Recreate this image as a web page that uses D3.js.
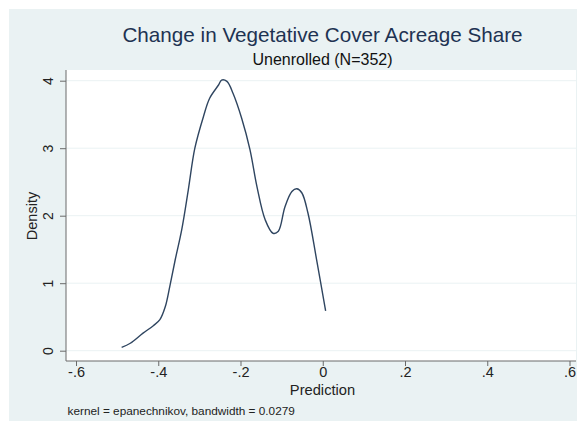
<!DOCTYPE html>
<html>
<head>
<meta charset="utf-8">
<script src="https://cdn.jsdelivr.net/npm/d3@7"></script>
<style>
  html, body { margin: 0; padding: 0; background: #ffffff; }
  svg { display: block; font-family: "Liberation Sans", Arial, sans-serif; }
</style>
</head>
<body>
<svg id="chart" width="579" height="423"></svg>
<script>
// Kernel density estimate of predicted change (unenrolled group)
const predX = [-0.489, -0.468, -0.437, -0.412, -0.396, -0.383, -0.372, -0.359, -0.343, -0.327,
               -0.311, -0.290, -0.275, -0.253, -0.246, -0.233, -0.218, -0.197, -0.177, -0.160,
               -0.140, -0.121, -0.108, -0.092, -0.075, -0.063, -0.051, -0.036, -0.015, 0.007];
const densityY = [0.05, 0.11, 0.26, 0.37, 0.46, 0.65, 0.95, 1.34, 1.79, 2.38,
                  3.00, 3.47, 3.74, 3.94, 4.01, 3.99, 3.81, 3.44, 2.98, 2.43,
                  1.94, 1.74, 1.77, 2.13, 2.36, 2.40, 2.34, 2.04, 1.35, 0.59];
const xTicks = [-0.6, -0.4, -0.2, 0, 0.2, 0.4, 0.6];
const xTickLabels = ["-.6", "-.4", "-.2", "0", ".2", ".4", ".6"];
const yTicks = [0, 1, 2, 3, 4];

const titleText = "Change in Vegetative Cover Acreage Share";
const subtitleText = "Unenrolled (N=352)";
const xLabel = "Prediction";
const yLabel = "Density";
const noteText = "kernel = epanechnikov, bandwidth = 0.0279";

const svg = d3.select("#chart");

// outer graph region
svg.append("rect").attr("x", 9).attr("y", 9).attr("width", 568).attr("height", 412)
  .attr("fill", "#eaf2f3");

const plot = { left: 66, right: 576, top: 70, bottom: 361 };
svg.append("rect").attr("x", plot.left).attr("y", plot.top)
  .attr("width", plot.right - plot.left).attr("height", plot.bottom - plot.top)
  .attr("fill", "#ffffff");

const x = d3.scaleLinear().domain([-0.6, 0.6]).range([76, 569.5]);
const y = d3.scaleLinear().domain([0, 4]).range([350.7, 80.7]);

// gridlines
svg.append("g").selectAll("line").data(yTicks).join("line")
  .attr("x1", plot.left).attr("x2", plot.right)
  .attr("y1", d => y(d)).attr("y2", d => y(d))
  .attr("stroke", "#eaf2f3").attr("stroke-width", 1);

// y axis
const yAxis = svg.append("g").attr("transform", `translate(${plot.left},0)`)
  .call(d3.axisLeft(y).tickValues(yTicks).tickFormat(d3.format("d")).tickSize(6).tickPadding(4));
yAxis.select(".domain").attr("d", `M0,${plot.top}V${plot.bottom}`).attr("stroke", "#6a6a6a");
yAxis.selectAll(".tick line").attr("stroke", "#6a6a6a");
yAxis.selectAll(".tick text")
  .attr("font-size", 14).attr("fill", "#222")
  .attr("text-anchor", "middle").attr("x", 0).attr("dy", 0)
  .attr("transform", "translate(-13,0) rotate(-90)");

// x axis
const xAxis = svg.append("g").attr("transform", `translate(0,${plot.bottom})`)
  .call(d3.axisBottom(x).tickValues(xTicks).tickFormat((d, i) => xTickLabels[i]).tickSize(5).tickPadding(1));
xAxis.select(".domain").attr("d", `M${plot.left},0H${plot.right}`).attr("stroke", "#6a6a6a");
xAxis.selectAll(".tick line").attr("stroke", "#6a6a6a");
xAxis.selectAll(".tick text").attr("font-size", 14.5).attr("fill", "#222");

// density curve
const pts = predX.map((v, i) => [v, densityY[i]]);
svg.append("path").datum(pts)
  .attr("d", d3.line().x(d => x(d[0])).y(d => y(d[1])).curve(d3.curveCatmullRom.alpha(0.5)))
  .attr("fill", "none").attr("stroke", "#2f4560").attr("stroke-width", 1.4);

// titles and labels
svg.append("text").attr("x", 322.5).attr("y", 42).attr("text-anchor", "middle")
  .attr("font-size", 20.7).attr("fill", "#1e3352").text(titleText);
svg.append("text").attr("x", 322.5).attr("y", 64.5).attr("text-anchor", "middle")
  .attr("font-size", 16).attr("fill", "#111").text(subtitleText);
svg.append("text").attr("x", 322.5).attr("y", 395).attr("text-anchor", "middle")
  .attr("font-size", 14.7).attr("fill", "#222").text(xLabel);
svg.append("text").attr("transform", "translate(36.5,216) rotate(-90)").attr("text-anchor", "middle")
  .attr("font-size", 14.5).attr("fill", "#222").text(yLabel);
svg.append("text").attr("x", 67.5).attr("y", 415)
  .attr("font-size", 11.8).attr("fill", "#222").text(noteText);
</script>
</body>
</html>
